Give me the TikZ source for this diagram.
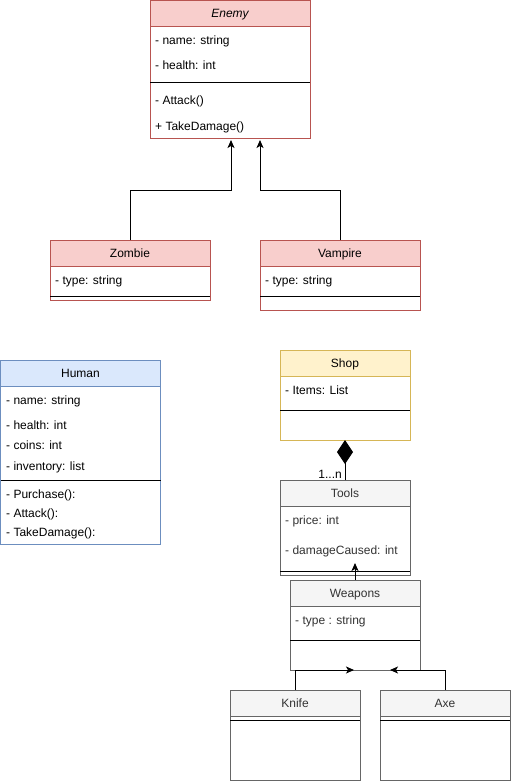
\documentclass[tikz,border=0pt]{standalone}
\usepackage{fontspec}
\setmainfont{Liberation Sans}
\usetikzlibrary{arrows.meta}

\definecolor{redfill}{HTML}{F8CECC}
\definecolor{redline}{HTML}{B85450}
\definecolor{bluefill}{HTML}{DAE8FC}
\definecolor{blueline}{HTML}{6C8EBF}
\definecolor{yelfill}{HTML}{FFF2CC}
\definecolor{yelline}{HTML}{D6B656}
\definecolor{grayfill}{HTML}{F5F5F5}
\definecolor{grayline}{HTML}{666666}
\definecolor{graytext}{HTML}{333333}

\tikzset{
  classbody/.style={draw, fill=white, line width=1pt, anchor=north west,
    inner sep=0pt, outer sep=0pt, minimum width=#1},
  classhead/.style={draw, line width=1pt, anchor=north west, inner sep=0pt,
    outer sep=0pt, minimum width=#1, minimum height=26pt,
    text height=8.6pt, text depth=0pt},
  redcls/.style={draw=redline, fill=redfill},
  bluecls/.style={draw=blueline, fill=bluefill},
  yelcls/.style={draw=yelline, fill=yelfill},
  graycls/.style={draw=grayline, fill=grayfill, text=graytext},
  member/.style={anchor=west, inner sep=0pt, text height=8.6pt, text depth=0pt},
  sepline/.style={line width=1pt, black},
  inh/.style={line width=1pt, -{Stealth[length=8pt,width=7pt,inset=2pt]}},
  comp/.style={line width=1pt, -{Diamond[length=24pt,width=16pt]}},
}

\begin{document}
\fontsize{12}{14}\selectfont
\begin{tikzpicture}[x=1pt, y=-1pt]
\useasboundingbox (0,0) rectangle (512,782);

% Enemy
\node[classbody=160pt, minimum height=138pt, draw=redline] (enemy) at (150,0) {};
\node[classhead=160pt, redcls, font=\itshape] (enemyhead) at (150,0) {Enemy};
\draw[sepline] (150,82) -- (310,82);
\node[member] (en1) at (155,40) {- name: string};
\node[member] (en2) at (155,65) {- health: int};
\node[member] (en3) at (155,100) {- Attack()};
\node[member] (en4) at (155,126) {+ TakeDamage()};

% Zombie
\node[classbody=160pt, minimum height=60pt, draw=redline] (zombie) at (50,240) {};
\node[classhead=160pt, redcls] (zombiehead) at (50,240) {Zombie};
\draw[sepline] (50,296) -- (210,296);
\node[member] (zb1) at (55,280) {- type: string};

% Vampire
\node[classbody=160pt, minimum height=70pt, draw=redline] (vampire) at (260,240) {};
\node[classhead=160pt, redcls] (vampirehead) at (260,240) {Vampire};
\draw[sepline] (260,296) -- (420,296);
\node[member] (vp1) at (265,280) {- type: string};

% Human
\node[classbody=160pt, minimum height=184pt, draw=blueline] (human) at (0.5,360) {};
\node[classhead=160pt, bluecls] (humanhead) at (0.5,360) {Human};
\draw[sepline] (0.5,480) -- (160.5,480);
\node[member] (hm1) at (6,400) {- name: string};
\node[member] (hm2) at (6,425) {- health: int};
\node[member] (hm3) at (6,445) {- coins: int};
\node[member] (hm4) at (6,466) {- inventory: list};
\node[member] (hm5) at (6,494) {- Purchase():};
\node[member] (hm6) at (6,513) {- Attack():};
\node[member] (hm7) at (6,532) {- TakeDamage():};

% Shop
\node[classbody=130pt, minimum height=90pt, draw=yelline] (shop) at (280,350) {};
\node[classhead=130pt, yelcls] (shophead) at (280,350) {Shop};
\draw[sepline] (280,410) -- (410,410);
\node[member] (sh1) at (285,390) {- Items: List};

% Tools
\node[classbody=130pt, minimum height=95pt, draw=grayline] (tools) at (280,480) {};
\node[classhead=130pt, graycls] (toolshead) at (280,480) {Tools};
\draw[sepline] (280,571) -- (410,571);
\node[member, text=graytext] (tl1) at (285,520) {- price: int};
\node[member, text=graytext] (tl2) at (285,550) {- damageCaused: int};

% Weapons
\node[classbody=130pt, minimum height=90pt, draw=grayline] (weapons) at (290,580) {};
\node[classhead=130pt, graycls] (weaponshead) at (290,580) {Weapons};
\draw[sepline] (290,640) -- (420,640);
\node[member, text=graytext] (wp1) at (295,620) {- type : string};

% Knife
\node[classbody=130pt, minimum height=90pt, draw=grayline] (knife) at (230,690) {};
\node[classhead=130pt, graycls] (knifehead) at (230,690) {Knife};
\draw[sepline] (230,720) -- (360,720);

% Axe
\node[classbody=130pt, minimum height=90pt, draw=grayline] (axe) at (380,690) {};
\node[classhead=130pt, graycls] (axehead) at (380,690) {Axe};
\draw[sepline] (380,720) -- (510,720);

% generalisations
\draw[inh] (zombiehead.north) -- ++(0,-50) -| ([xshift=1pt,yshift=-2pt]enemy.south);
\draw[inh] (vampirehead.north) -- ++(0,-50) -| ([xshift=30pt,yshift=-2pt]enemy.south);
\coordinate (wtip) at (355,563);
\draw[inh] (weaponshead.north) -- (wtip);
\draw[inh] (knifehead.north) |- ([xshift=-1pt]weapons.south);
\draw[inh] (axehead.north) |- ([xshift=35pt]weapons.south);

% composition Shop <>-- Tools
\draw[comp, fill=black] (toolshead.north) -- (shop.south);
\node[anchor=east, inner sep=0pt, text height=8.6pt, text depth=0pt] (mult) at (342,474) {1...n};
\end{tikzpicture}
\end{document}
